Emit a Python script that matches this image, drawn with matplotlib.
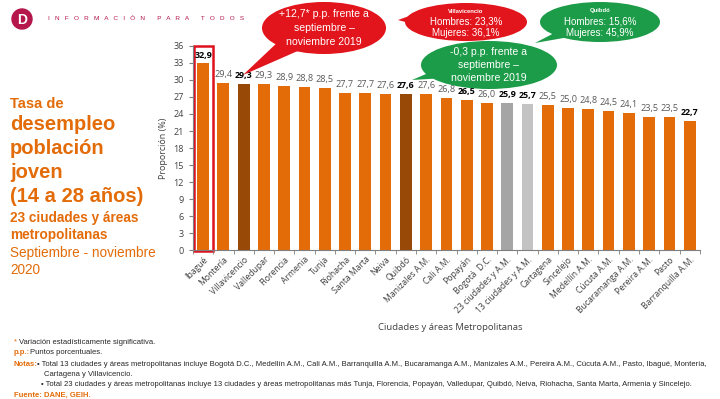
import matplotlib.pyplot as plt
from matplotlib.patches import Ellipse, Polygon, Rectangle, Circle

# data
ciudades = ['Ibagué', 'Montería', 'Villavicencio', 'Valledupar', 'Florencia', 'Armenia',
            'Tunja', 'Riohacha', 'Santa Marta', 'Neiva', 'Quibdó', 'Manizales A.M.',
            'Cali A.M.', 'Popayán', 'Bogotá  D.C.', '23 ciudades y A.M.', '13 ciudades y A.M.',
            'Cartagena', 'Sincelejo', 'Medellín A.M.', 'Cúcuta A.M.', 'Bucaramanga A.M.',
            'Pereira A.M.', 'Pasto', 'Barranquilla A.M.']
tasa = [32.9, 29.4, 29.3, 29.3, 28.9, 28.8, 28.5, 27.7, 27.7, 27.6, 27.6, 27.6,
        26.8, 26.5, 26.0, 25.9, 25.7, 25.5, 25.0, 24.8, 24.5, 24.1, 23.5, 23.5, 22.7]
negrita = ['Ibagué', 'Villavicencio', 'Quibdó', 'Popayán', '23 ciudades y A.M.',
           '13 ciudades y A.M.', 'Barranquilla A.M.']

naranja = '#E36C09'
cafe = '#984807'
colores = []
for c in ciudades:
    if c in ('Villavicencio', 'Quibdó'):
        colores.append(cafe)
    elif c == '23 ciudades y A.M.':
        colores.append('#A5A5A5')
    elif c == '13 ciudades y A.M.':
        colores.append('#C3C3C3')
    else:
        colores.append(naranja)

plt.rcParams['font.family'] = ['Open Sans', 'DejaVu Sans']

fig = plt.figure(figsize=(7.2, 3.99), dpi=100)
ax = fig.add_axes([0.268, 0.373, 0.704, 0.512])

x = range(len(ciudades))
ax.bar(x, tasa, width=0.58, color=colores)
for i, (c, v) in enumerate(zip(ciudades, tasa)):
    lbl = f'{v:.1f}'.replace('.', ',')
    if c in negrita:
        ax.text(i, v + 0.7, lbl, ha='center', va='bottom', fontsize=6.4,
                fontweight='bold', color='black')
    else:
        ax.text(i, v + 0.7, lbl, ha='center', va='bottom', fontsize=6.6, color='#595959')

ax.set_xlim(-0.5, len(ciudades) - 0.5)
ax.set_ylim(0, 36)
ax.set_yticks(range(0, 37, 3))
ax.set_xticks(list(x))
ax.set_xticklabels(ciudades, rotation=45, ha='right', rotation_mode='anchor', fontsize=6.2)
ax.tick_params(axis='y', labelsize=6.5, length=3, color='#7F7F7F', labelcolor='#404040')
ax.tick_params(axis='x', length=3, color='#7F7F7F', labelcolor='#404040')
ax.set_xticks([i + 0.5 for i in range(-1, len(ciudades))], minor=True)
ax.tick_params(axis='x', which='major', length=0)
ax.tick_params(axis='x', which='minor', length=3, color='#7F7F7F')
for s in ['top', 'right']:
    ax.spines[s].set_visible(False)
for s in ['left', 'bottom']:
    ax.spines[s].set_color('#7F7F7F')
ax.set_ylabel('Proporción (%)', fontsize=6.5, color='#404040', labelpad=4)

# red frame around Ibagué
ax.add_patch(Rectangle((-0.47, -0.2), 0.94, 36.1, fill=False, edgecolor='#E0101F',
                       linewidth=1.8, clip_on=False))

fig.text(0.625, 0.172, 'Ciudades y áreas Metropolitanas', ha='center', fontsize=6.8,
         color='#404040')

# overlay in pixel coordinates for header, bubbles and notes
ov = fig.add_axes([0, 0, 1, 1], zorder=5)
ov.set_xlim(0, 720)
ov.set_ylim(399, 0)
ov.axis('off')

ov.add_patch(Circle((22, 19), 10, color='#B5164B'))
ov.text(22.5, 19.5, 'D', ha='center', va='center', color='white', fontsize=10,
        fontweight='bold', family='Liberation Sans')
ov.text(48, 19, '   '.join('INFORMACIÓN') + '       ' + '   '.join('PARA') + '       ' + '   '.join('TODOS'),
        va='center', fontsize=4.6, color='#B5164B', family='Liberation Sans')


def bocadillo(cx, cy, w, h, punta, base, color, texto, sizes):
    ov.add_patch(Polygon([base[0], punta, base[1]], closed=True, facecolor=color,
                         edgecolor='none'))
    ov.add_patch(Ellipse((cx, cy), w, h, facecolor=color, edgecolor='none'))
    n = len(texto)
    for k, (t, s) in enumerate(zip(texto, sizes)):
        yy = cy + (k - (n - 1) / 2) * (h / (n + 0.6))
        ov.text(cx, yy, t, ha='center', va='center', color='white', fontsize=s,
                family='Liberation Sans', fontweight='bold' if s < 5 else 'normal')


rojo = '#E2141C'
verde = '#1C9C48'
bocadillo(324, 28, 124, 52, (243, 75), [(280, 40), (300, 50)], rojo,
          ['+12,7* p.p. frente a', 'septiembre –', 'noviembre 2019'], [7.6, 7.6, 7.6])
bocadillo(466, 22, 122, 38, (398, 20), [(415, 14), (420, 26)], rojo,
          ['Villavicencio', 'Hombres: 23,3%', 'Mujeres: 36,1%'], [4.2, 7, 7])
bocadillo(600, 22, 120, 40, (535, 43), [(560, 30), (575, 36)], verde,
          ['Quibdó', 'Hombres: 15,6%', 'Mujeres: 45,9%'], [4.2, 7, 7])
bocadillo(489, 65, 136, 48, (412, 80), [(440, 68), (445, 78)], verde,
          ['-0,3 p.p. frente a', 'septiembre –', 'noviembre 2019'], [7.6, 7.6, 7.6])

# left title block
tit = '#E36C09'
ov.text(10, 104, 'Tasa de', fontsize=10.5, fontweight='bold', color=tit, family='Liberation Sans', va='center')
ov.text(10, 125, 'desempleo', fontsize=14.5, fontweight='bold', color=tit, family='Liberation Sans', va='center')
ov.text(10, 149, 'población', fontsize=14.5, fontweight='bold', color=tit, family='Liberation Sans', va='center')
ov.text(10, 173, 'joven', fontsize=14.5, fontweight='bold', color=tit, family='Liberation Sans', va='center')
ov.text(10, 196, '(14 a 28 años)', fontsize=14.5, fontweight='bold', color=tit, family='Liberation Sans', va='center')
ov.text(10, 218, '23 ciudades y áreas', fontsize=9.8, fontweight='bold', color=tit, family='Liberation Sans', va='center')
ov.text(10, 235, 'metropolitanas', fontsize=9.8, fontweight='bold', color=tit, family='Liberation Sans', va='center')
ov.text(10, 253, 'Septiembre - noviembre', fontsize=9.8, color=tit, family='Liberation Sans', va='center')
ov.text(10, 270, '2020', fontsize=9.8, color=tit, family='Liberation Sans', va='center')

# footnotes
fs = 5.5
nota = dict(fontsize=fs, family='Liberation Sans', va='center', color='#262626')
acento = dict(fontsize=fs, family='Liberation Sans', va='center', color=tit)
ov.text(14, 342, '*', **acento)
ov.text(19, 342, 'Variación estadísticamente significativa.', **nota)
ov.text(14, 353, 'p.p.:', fontweight='bold', **acento)
ov.text(30, 353, 'Puntos porcentuales.', **nota)
ov.text(14, 364, 'Notas:', fontweight='bold', **acento)
ov.text(37, 364, '• Total 13 ciudades y áreas metropolitanas incluye Bogotá D.C., Medellín A.M., Cali A.M., '
        'Barranquilla A.M., Bucaramanga A.M., Manizales A.M., Pereira A.M., Cúcuta A.M., Pasto, Ibagué, Montería,', **nota)
ov.text(44, 374, 'Cartagena y Villavicencio.', **nota)
ov.text(41, 385, '• Total 23 ciudades y áreas metropolitanas incluye 13 ciudades y áreas metropolitanas más Tunja, '
        'Florencia, Popayán, Valledupar, Quibdó, Neiva, Riohacha, Santa Marta, Armenia y Sincelejo.', **nota)
ov.text(14, 395, 'Fuente: DANE, GEIH.', fontweight='bold', **acento)

fig.savefig('out.png', dpi=100)
